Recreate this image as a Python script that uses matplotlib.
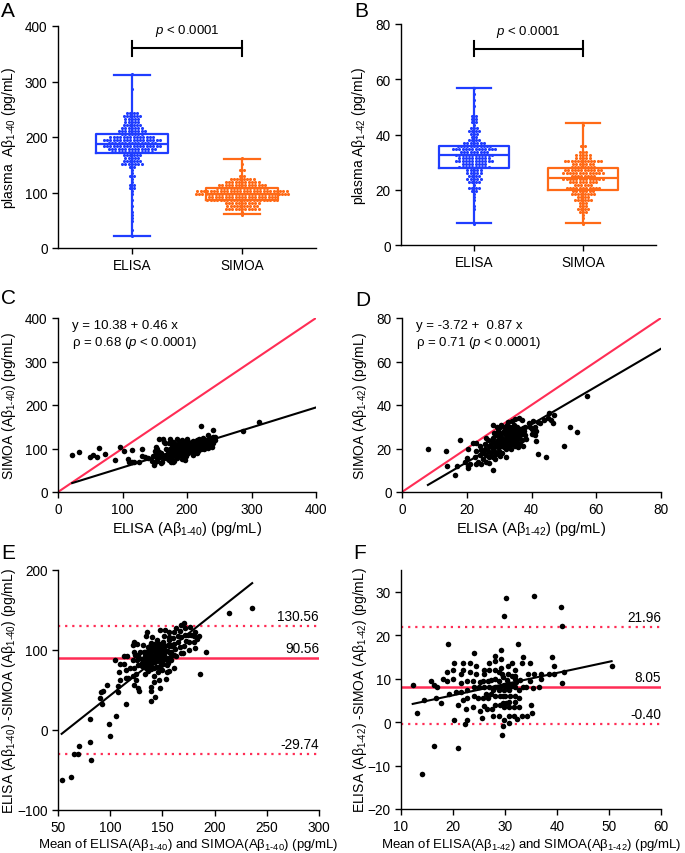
import numpy as np
import matplotlib
matplotlib.use("Agg")
import matplotlib.pyplot as plt

plt.rcParams['font.family'] = ['Liberation Sans', 'DejaVu Sans']
plt.rcParams['font.size'] = 9
plt.rcParams['mathtext.fontset'] = 'custom'
plt.rcParams['mathtext.rm'] = 'Liberation Sans'
plt.rcParams['mathtext.it'] = 'Liberation Sans:italic'

BLUE = '#1f3dff'
ORANGE = '#ff6a17'
RED = '#ff2d55'

# ---- A-beta 1-40 paired values (ELISA, SIMOA), pg/mL ----
elisa40 = [22, 33, 50, 54, 60, 63, 73, 88, 96, 102, 108, 110, 115, 115, 118, 125, 131, 131, 135, 140, 145,
           148, 149, 150, 150, 151, 152, 153, 153, 154, 155, 156, 157, 158, 159, 160, 161, 162, 163, 164, 165,
           166, 167, 168, 169, 170, 171,
           172, 172, 172, 173, 173, 173, 174, 174, 174, 175, 175, 175, 176, 176, 176, 177, 177, 177, 178, 178,
           178, 179, 179, 179, 180, 180, 180, 181, 181, 181, 182, 182, 182, 183, 183, 183, 184, 184, 184, 185,
           185, 185, 186, 186, 186, 187, 187, 187,
           188, 188, 188, 189, 189, 189, 190, 190, 190, 191, 191, 191, 192, 192, 192, 193, 193, 193, 194, 194,
           194, 195, 195, 195, 196, 196, 196, 197, 197, 197, 198, 198, 198, 199, 199, 199, 200, 200, 200, 201,
           201, 201, 202, 202, 203, 203, 204,
           205, 205, 206, 207, 208, 208, 209, 210, 210, 211, 212, 212, 213, 214, 215, 215, 216, 217, 218, 218,
           219, 220, 221, 222, 223, 224, 225, 226, 227, 228, 229, 230, 231, 232, 233, 234, 235, 236, 237, 238,
           239, 240, 241, 241, 243, 244, 287, 312]
simoa40 = [85, 92, 80, 84, 80, 101, 88, 74, 104, 95, 76, 70, 97, 68, 69, 69, 83, 99, 80, 78, 72,
           83, 61, 68, 85, 95, 103, 100, 78, 72, 88, 93, 121, 80, 67, 90, 84, 70, 122, 115, 78,
           112, 86, 98, 82, 90, 77,
           88, 112, 74, 99, 83, 95, 92, 122, 80, 86, 69, 97, 95, 108, 88, 90, 80, 101, 100, 115,
           68, 87, 94, 91, 103, 72, 96, 91, 98, 84, 85, 110, 93, 96, 104, 89, 92, 78, 99, 100,
           93, 121, 107, 87, 96, 95, 112, 90,
           101, 84, 95, 97, 90, 108, 105, 118, 88, 94, 86, 99, 102, 110, 93, 98, 76, 119, 100, 90,
           85, 107, 96, 114, 88, 103, 97, 113, 95, 74, 99, 82, 109, 105, 92, 101, 97, 110, 122, 101,
           89, 95, 115, 94, 104, 98, 112,
           100, 108, 96, 110, 102, 114, 117, 93, 85, 105, 100, 107, 112, 98, 108, 90, 120, 95, 103, 122,
           115, 110, 151, 100, 118, 106, 125, 110, 100, 117, 105, 120, 112, 130, 102, 115, 125, 108, 118, 104,
           122, 126, 112, 143, 120, 127, 141, 160]

# ---- A-beta 1-42 paired values (ELISA, SIMOA), pg/mL ----
elisa42 = [8, 13.5, 14, 16.5, 17, 18, 19.5, 20, 20.5, 20.5, 20.5, 21, 22, 23, 28, 28, 32, 50, 52, 54, 57,
           22.5, 23, 23, 23.5, 24, 24, 24.5, 24.5, 25, 25, 25.5, 25.5, 26, 26, 26, 26.5, 26.5, 27, 27, 27,
           27.5, 27.5, 27.8, 28, 28, 28, 28.3, 28.5, 28.5, 28.7, 29, 29, 29, 29.2, 29.5, 29.5, 29.5, 29.8,
           30, 30, 30, 30, 30.2, 30.5, 30.5, 30.7, 31, 31, 31, 31,
           31.3, 31.5, 31.5, 31.5, 31.6, 31.8, 32, 32, 32, 32.2, 32.4, 32.5, 32.5, 32.5, 32.6, 32.8, 33, 33,
           33, 33.1, 33.2, 33.5, 33.5, 33.5, 33.7, 33.9, 34, 34, 34, 34.2, 34.4, 34.5, 34.5, 34.5, 34.8, 35,
           35, 35, 35, 35,
           35.5, 35.5, 35.5, 35.8, 36, 36, 36, 36.2, 36.5, 36.5, 36.5, 36.8, 37, 37, 37, 37.2, 37.5, 37.5,
           37.8, 38, 38, 38.2, 34.6, 34.7, 35.2, 35.3, 39.3, 39.5, 40, 40,
           40.5, 41, 41, 41.5, 41.5, 42, 42, 42.5, 44, 44.5, 45, 45.5, 46, 46.5, 47]
simoa42 = [20, 19, 12, 8, 12, 24, 14, 15.5, 20, 11, 12, 13, 22.5, 13, 10, 31, 16, 21, 30, 27.5, 44,
           16, 19, 22.5, 14, 21, 17, 13, 19.5, 18, 15, 22, 20, 14, 17, 25, 19, 24, 16, 21, 13.5,
           18, 22, 24, 20, 25, 16, 27, 23, 19, 15, 26, 21, 17.5, 30, 24, 28, 23, 20.5,
           22, 19, 26, 29.5, 16.5, 24, 21, 31, 27, 18, 23, 25,
           24, 22, 28, 30, 20.5, 27.5, 26, 24, 20, 22.5, 28, 29, 25, 31, 26.5, 32, 23, 27,
           21, 25, 28.5, 26, 30, 24, 20, 32.5, 28, 22, 25.5, 29.5, 26, 27, 31, 23, 24.5, 26,
           29, 21, 33.5, 24,
           27, 30, 23, 20.5, 25, 28, 27.5, 34, 26, 22, 29, 27.5, 27, 33, 24, 26.5, 29.5, 21,
           28, 26, 30, 24.5, 27, 26, 25.5, 27, 31.5, 30, 29, 26.5,
           32.5, 26, 30, 28, 23.5, 32, 17.5, 31.5, 33, 16, 34, 36.5, 33, 31.5, 35.5]

groups = ['ELISA', 'SIMOA']
fit40 = (10.38, 0.46)      # intercept, slope from panel C
fit42 = (-3.72, 0.87)      # panel D
bland40 = [90.56, 130.56, -29.74]   # mean diff, upper, lower
bland42 = [8.05, 21.96, -0.40]

elisa40 = np.array(elisa40, float)
simoa40 = np.array(simoa40, float)
elisa42 = np.array(elisa42, float)
simoa42 = np.array(simoa42, float)

W, H = 685, 854
fig = plt.figure(figsize=(W / 100, H / 100), dpi=100)


def px_axes(l, t, r, b):
    return fig.add_axes([l / W, 1 - b / H, (r - l) / W, (b - t) / H])


def style(ax):
    for s in ['top', 'right']:
        ax.spines[s].set_visible(False)
    for s in ['left', 'bottom']:
        ax.spines[s].set_linewidth(1.0)
    ax.tick_params(width=1.0, length=4, labelsize=9.8)


def swarm(vals, center, ybin, dx):
    rows = np.round(vals / ybin)
    xs = np.zeros(len(vals))
    for r in np.unique(rows):
        idx = np.where(rows == r)[0]
        xs[idx] = center + (np.arange(len(idx)) - (len(idx) - 1) / 2) * dx
    return xs, rows * ybin


def box_panel(ax, data, colors, ybin, ymax, ystep, sig_y, ylabel):
    for i, (d, c) in enumerate(zip(data, colors)):
        xs, ys = swarm(d, i + 1, ybin, 0.03)
        ax.scatter(xs, ys, s=5, color=c, marker='o', linewidths=0, zorder=2)
        ax.boxplot([d], positions=[i + 1], widths=0.65, whis=(0, 100), showfliers=False,
                   capwidths=0.32, medianprops=dict(color=c, lw=1.6),
                   boxprops=dict(color=c, lw=1.6), whiskerprops=dict(color=c, lw=1.6),
                   capprops=dict(color=c, lw=1.6), zorder=3)
    ax.set_xlim(0.33, 2.67)
    ax.set_ylim(0, ymax)
    ax.set_yticks(np.arange(0, ymax + 1, ystep))
    ax.set_xticks([1, 2])
    ax.set_xticklabels(groups)
    tick = ymax * 0.034
    ax.plot([1, 2], [sig_y, sig_y], color='black', lw=1.5)
    ax.plot([1, 1], [sig_y - tick, sig_y + tick], color='black', lw=1.5)
    ax.plot([2, 2], [sig_y - tick, sig_y + tick], color='black', lw=1.5)
    ax.text(1.5, sig_y + ymax * 0.045, '$p$ < 0.0001', ha='center', va='bottom', fontsize=9.5)
    ax.set_ylabel(ylabel, fontsize=10)
    style(ax)


sub40 = '$_{\\mathregular{1\u201040}}$'
sub42 = '$_{\\mathregular{1\u201042}}$'

# A
axA = px_axes(58, 27, 316, 249)
box_panel(axA, [elisa40, simoa40], [BLUE, ORANGE], 5.4, 400, 100, 360,
          'plasma  A\u03b2' + sub40 + ' (pg/mL)')
axA.yaxis.set_label_coords(-0.156, 0.5)

# B
axB = px_axes(401, 25, 656, 246)
box_panel(axB, [elisa42, simoa42], [BLUE, ORANGE], 1.09, 80, 20, 71,
          'plasma A\u03b2' + sub42 + ' (pg/mL)')
axB.yaxis.set_label_coords(-0.128, 0.5)


def corr_panel(ax, x, y, fit, lim, step, txt, label_x, label_y):
    ax.plot([0, lim], [0, lim], color=RED, lw=1.5, zorder=1)
    xx = np.array([x.min(), lim])
    ax.plot(xx, fit[0] + fit[1] * xx, color='black', lw=1.5, zorder=2)
    ax.scatter(x, y, s=16, color='black', linewidths=0, zorder=3)
    ax.set_xlim(0, lim)
    ax.set_ylim(0, lim)
    ax.set_xticks(np.arange(0, lim + 1, step))
    ax.set_yticks(np.arange(0, lim + 1, step))
    ax.text(lim * 0.055, lim * 0.995, txt, ha='left', va='top', fontsize=9.5, linespacing=1.25)
    ax.set_xlabel(label_x, fontsize=10.5)
    ax.set_ylabel(label_y, fontsize=10)
    ax.xaxis.set_label_coords(0.5, -0.158)
    style(ax)


# C
axC = px_axes(58, 319, 316, 493)
corr_panel(axC, elisa40, simoa40, fit40, 400, 100,
           'y = 10.38 + 0.46 x\n\u03c1 = 0.68 ($p$ < 0.0001)',
           'ELISA (A\u03b2' + sub40 + ') (pg/mL)', 'SIMOA (A\u03b2' + sub40 + ') (pg/mL)')
axC.yaxis.set_label_coords(-0.156, 0.5)

# D
axD = px_axes(402, 319, 661, 493)
corr_panel(axD, elisa42, simoa42, fit42, 80, 20,
           'y = -3.72 +  0.87 x\n\u03c1 = 0.71 ($p$ < 0.0001)',
           'ELISA (A\u03b2' + sub42 + ') (pg/mL)', 'SIMOA (A\u03b2' + sub42 + ') (pg/mL)')
axD.yaxis.set_label_coords(-0.127, 0.5)


def bland_panel(ax, e, s, lines, xlim, ylim, xstep, ystep, label_x, label_y):
    m = (e + s) / 2
    d = e - s
    ax.axhline(lines[0], color=RED, lw=1.8, zorder=1)
    ax.axhline(lines[1], color=RED, lw=1.6, ls=(0, (1, 2.2)), zorder=1)
    ax.axhline(lines[2], color=RED, lw=1.6, ls=(0, (1, 2.2)), zorder=1)
    k, b = np.polyfit(m, d, 1)
    xx = np.array([m.min(), m.max()])
    ax.plot(xx, b + k * xx, color='black', lw=1.5, zorder=2)
    ax.scatter(m, d, s=16, color='black', linewidths=0, zorder=3)
    for v in lines:
        ax.annotate('%.2f' % v, (xlim[1], v), xytext=(0, 2), textcoords='offset points',
                    ha='right', va='bottom', fontsize=9.8)
    ax.set_xlim(*xlim)
    ax.set_ylim(*ylim)
    ax.set_xticks(np.arange(xlim[0], xlim[1] + 1, xstep))
    ax.set_yticks(np.arange(ylim[0], 31 if ylim[1] < 100 else ylim[1] + 1, ystep))
    ax.set_xlabel(label_x, fontsize=9.5)
    ax.set_ylabel(label_y, fontsize=10)
    style(ax)


# E
axE = px_axes(58, 571, 319, 811)
bland_panel(axE, elisa40, simoa40, bland40, (50, 300), (-100, 200), 50, 100,
            'Mean of ELISA(A\u03b2' + sub40 + ') and SIMOA(A\u03b2' + sub40 + ') (pg/mL)',
            'ELISA (A\u03b2' + sub40 + ') -SIMOA (A\u03b2' + sub40 + ') (pg/mL)')
axE.yaxis.set_label_coords(-0.155, 0.5)
axE.xaxis.set_label_coords(0.5, -0.108)

# F
axF = px_axes(401, 571, 661, 810)
bland_panel(axF, elisa42, simoa42, bland42, (10, 60), (-20, 35), 10, 10,
            'Mean of ELISA(A\u03b2' + sub42 + ') and SIMOA(A\u03b2' + sub42 + ') (pg/mL)',
            'ELISA (A\u03b2' + sub42 + ') -SIMOA (A\u03b2' + sub42 + ') (pg/mL)')
axF.yaxis.set_label_coords(-0.123, 0.5)
axF.xaxis.set_label_coords(0.5, -0.112)

for letter, x, y in [('A', 1, 2), ('B', 354, 2), ('C', 1, 289), ('D', 355, 291),
                     ('E', 1, 544), ('F', 353, 544)]:
    fig.text(x / W, 1 - y / H, letter, ha='left', va='top', fontsize=15)

fig.savefig('out.png', dpi=100)
